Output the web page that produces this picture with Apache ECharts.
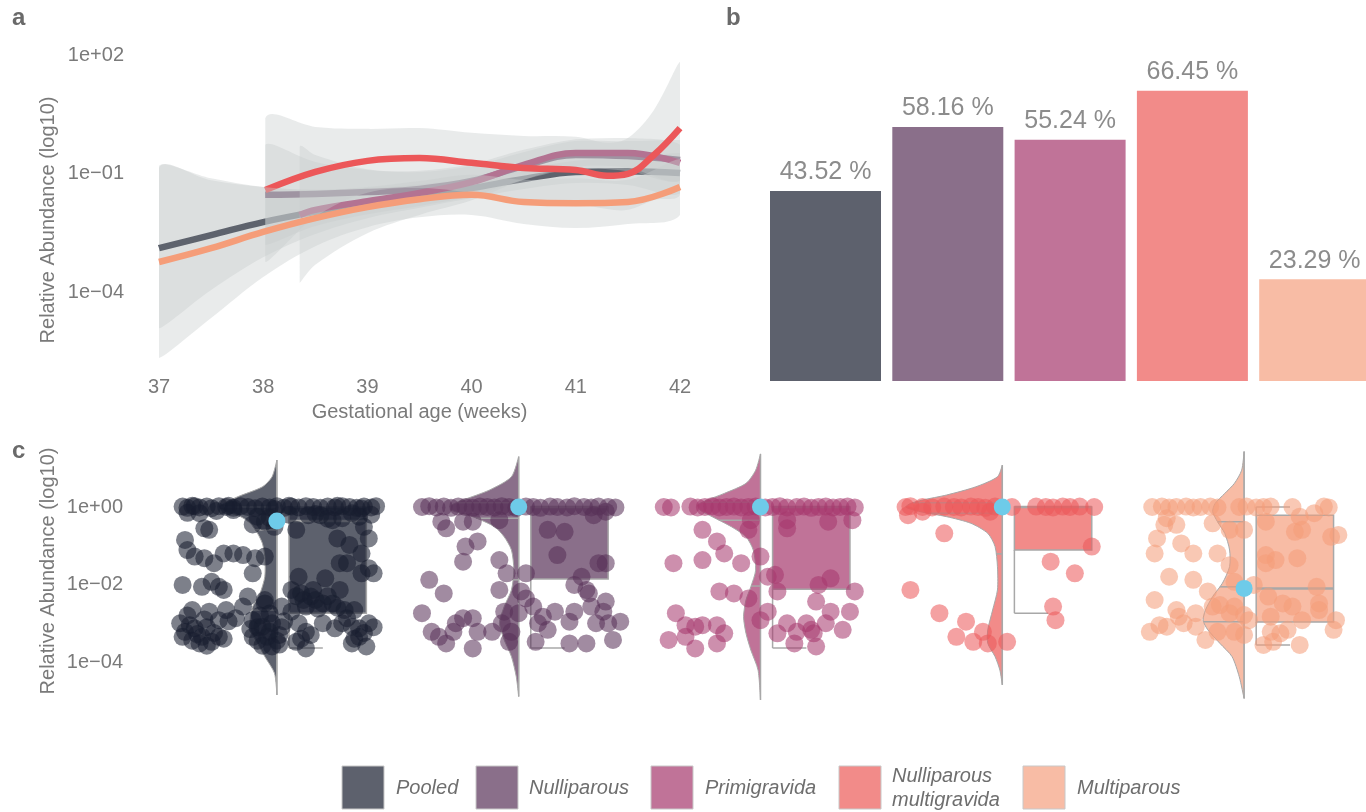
<!DOCTYPE html>
<html><head><meta charset="utf-8">
<script src="https://cdn.jsdelivr.net/npm/echarts@6/dist/echarts.min.js"></script>
<style>html,body{margin:0;padding:0;background:#fff}#main{width:1366px;height:812px}</style>
</head><body><div id="main"></div>
<script>
// ---------- shared ----------
const groupNames = ['Pooled','Nulliparous','Primigravida','Nulliparous\nmultigravida','Multiparous'];
const lineColors = ['#181d2e','#583158','#a5376c','#ec5759','#f59d79'];
const fillColors = ['#5d616d','#8a6f8a','#c07398','#f28b89','#f8bca5'];

// ---------- panel a : smoothed trends (log10 relative abundance) ----------
const weeksTicks = [37,38,39,40,41,42];
const yTicksA = [2,-1,-4];
const pooledWeeks = [37,37.5,38,38.5,39,39.5,40,40.5,41,41.5,42];
const pooledFit = [-2.89,-2.56,-2.23,-1.97,-1.75,-1.57,-1.37,-1.14,-0.96,-0.94,-0.99];
const pooledHi  = [-0.86,-1.17,-1.34,-1.41,-1.37,-1.27,-1.12,-0.89,-0.68,-0.59,-0.48];
const pooledLo  = [-4.92,-3.95,-3.12,-2.53,-2.13,-1.87,-1.62,-1.39,-1.24,-1.29,-1.50];
const nulliWeeks = [38.02,38.5,39,39.5,40,40.5,41,41.5,42];
const nulliFit = [-1.54,-1.52,-1.47,-1.39,-1.19,-0.81,-0.53,-0.56,-0.66];
const nulliHi  = [-0.27,-0.71,-0.91,-0.96,-0.81,-0.46,-0.18,-0.18,-0.15];
const nulliLo  = [-2.81,-2.33,-2.03,-1.82,-1.57,-1.16,-0.88,-0.94,-1.17];
const primiWeeks = [38.35,38.5,39,39.5,40,40.5,41,41.5,42];
const primiFit = [-2.05,-1.92,-1.70,-1.49,-1.22,-0.78,-0.48,-0.48,-0.73];
const primiHi  = [-0.33,-0.53,-0.89,-0.93,-0.76,-0.40,-0.13,-0.10,-0.27];
const primiLo  = [-3.77,-3.31,-2.51,-2.05,-1.68,-1.16,-0.83,-0.86,-1.19];
const nmWeeks = [38.02,38.5,39,39.5,40,40.5,41,41.3,41.5,41.75,42];
const nmFit = [-1.42,-0.96,-0.68,-0.61,-0.73,-0.86,-0.91,-1.06,-1.01,-0.53,0.15];
const nmHi  = [0.40,0.18,0.13,0.15,0.03,-0.05,-0.07,-0.22,-0.10,0.61,1.82];
const nmLo  = [-3.24,-2.10,-1.49,-1.37,-1.49,-1.67,-1.75,-1.90,-1.92,-1.67,-1.52];
const multiWeeks = [37,37.5,38,38.5,39,39.5,40,40.5,41,41.5,42];
const multiFit = [-3.24,-2.89,-2.48,-2.13,-1.85,-1.65,-1.54,-1.72,-1.75,-1.72,-1.34];
const multiHi  = [-0.81,-1.12,-1.34,-1.42,-1.34,-1.19,-1.03,-1.16,-1.12,-1.16,-0.63];
const multiLo  = [-5.67,-4.66,-3.62,-2.84,-2.36,-2.11,-2.05,-2.28,-2.38,-2.28,-2.05];

// ---------- panel b : prevalence (%) ----------
const barValues = [43.52,58.16,55.24,66.45,23.29];

// ---------- panel c : raincloud (jitter, log10 abundance) ----------
const yTicksC = [0,-2,-4];
const pooledPoints = [[-0.39,0.01],[-0.37,-0.02],[-0.34,0.02],[-0.32,-0.01],[-0.29,0.01],[-0.27,-0.03],[-0.24,0.02],[-0.21,0],[-0.18,-0.02],[-0.15,0.02],[-0.12,0],[-0.09,-0.03],[-0.06,0.01],[-0.03,-0.01],[0.0,0.02],[0.03,-0.02],[0.06,0.01],[0.09,-0.01],[0.12,0.02],[0.15,0],[0.18,-0.02],[0.21,0.01],[0.24,-0.01],[0.27,0.02],[0.30,0],[0.33,-0.02],[0.36,0.01],[0.39,-0.01],[0.41,0.02],
 [-0.35,0.03],[-0.20,0.03],[0.05,0.03],[0.25,0.03],[-0.01,-0.05],[0.35,-0.04],[-0.25,-0.10],[-0.18,-0.08],[-0.37,-0.15],
 [-0.32,-0.16],[-0.30,-0.55],[-0.28,-0.59],[-0.08,-0.25],[-0.05,-0.38],[-0.01,-0.51],[0.13,-0.21],[0.18,-0.21],[0.23,-0.34],[0.27,-0.29],[0.31,-0.16],[0.08,-0.59],[0.25,-0.81],[0.30,-0.98],[0.36,-0.51],[0.38,-0.81],[0.35,-1.20],[0.26,-1.45],[0.29,-1.45],[0.38,-1.58],
 [0.16,-0.18],[0.21,-0.30],[0.34,-0.25],[0.05,-0.20],[-0.10,-0.45],[-0.03,-0.28],[0.39,-0.20],
 [-0.38,-0.85],[-0.37,-1.11],[-0.34,-1.28],[-0.30,-1.32],[-0.26,-1.45],[-0.22,-1.20],[-0.18,-1.20],[-0.14,-1.24],[-0.09,-1.32],[-0.05,-1.28],[-0.10,-1.71],
 [-0.39,-2.01],[-0.31,-2.06],[-0.27,-1.93],[-0.24,-2.06],[-0.22,-2.14],[-0.12,-2.31],[-0.14,-2.57],[-0.35,-2.66],[-0.28,-2.70],[-0.24,-2.92],[-0.21,-2.66],[-0.17,-2.87],
 [-0.40,-3.00],[-0.38,-3.22],[-0.34,-3.13],[-0.31,-3.35],[-0.27,-3.48],[-0.24,-3.35],[-0.39,-3.35],[-0.32,-3.52],
 [-0.36,-3.05],[-0.33,-3.28],[-0.29,-3.10],[-0.26,-3.25],[-0.22,-3.40],[-0.35,-3.45],[-0.29,-3.58],[-0.20,-2.95],[-0.30,-2.90],[-0.37,-2.80],
 [-0.10,-2.92],[-0.06,-3.09],[-0.03,-3.22],[-0.02,-3.00],[0.01,-3.30],[-0.10,-3.35],[-0.05,-2.49],[0.02,-2.57],[-0.07,-2.80],[-0.04,-3.35],[0.0,-3.45],[-0.08,-3.10],[0.03,-2.95],[-0.02,-3.60],[-0.05,-2.40],
 [-0.08,-3.45],[-0.11,-3.15],[-0.03,-2.75],[0.02,-3.10],[-0.06,-3.58],[0.01,-3.55],
 [0.09,-1.80],[0.20,-1.84],[0.06,-2.14],[0.10,-2.23],[0.14,-2.31],[0.19,-2.49],[0.23,-2.49],[0.26,-2.14],[0.15,-2.14],[0.12,-2.57],
 [0.16,-2.40],[0.21,-2.30],[0.17,-2.62],[0.25,-2.60],[0.11,-2.40],[0.08,-2.30],
 [0.09,-3.00],[0.12,-3.22],[0.08,-3.48],[0.12,-3.65],[0.19,-3.00],[0.24,-3.13],[0.28,-2.66],[0.32,-2.66],[0.31,-3.09],[0.34,-3.13],[0.38,-3.00],[0.31,-3.52],[0.37,-3.60],[0.34,-3.35],[0.35,-1.71],[0.40,-1.71],[0.06,-2.70],[0.29,-2.87],
 [0.14,-3.30],[0.10,-3.40],[0.36,-3.25],[0.40,-3.10],[0.32,-3.40],[0.27,-3.00]];
const nulliPoints = [[-0.40,0],[-0.37,0.02],[-0.34,-0.01],[-0.31,0.01],[-0.28,-0.02],[-0.25,0.01],[-0.22,0],[-0.19,-0.02],[-0.16,0.01],[-0.13,0],[-0.10,-0.01],[-0.07,0.02],[-0.04,0],[-0.01,-0.02],[0.03,0.01],[0.06,0],[0.09,-0.02],[0.13,0.01],[0.16,0],[0.20,-0.01],[0.23,0.02],[0.27,0],[0.30,-0.01],[0.33,0.01],[0.37,0],[0.40,-0.01],
 [-0.32,-0.38],[-0.30,-0.55],[-0.23,-0.38],[-0.19,-0.38],[-0.08,-0.34],[0.12,-0.59],[0.19,-0.64],[0.31,-0.21],[0.36,-0.12],[-0.22,-1.02],[-0.17,-0.89],[-0.23,-1.41],[-0.08,-1.37],[0.16,-1.24],[-0.05,-1.71],[0.03,-1.71],[0.33,-1.45],[0.36,-1.45],[0.26,-1.80],
 [-0.37,-1.88],[-0.31,-2.23],[-0.08,-2.14],[0.01,-2.18],[0.03,-2.36],[0.23,-2.01],[0.28,-2.14],[0.29,-2.23],[0.36,-2.44],[0.30,-2.57],[0.35,-2.70],
 [-0.40,-2.74],[-0.06,-2.70],[0.0,-2.74],[0.06,-2.57],[0.10,-2.83],[0.15,-2.70],[0.23,-2.70],[0.21,-2.96],[0.42,-2.96],[0.08,-3.00],[0.12,-3.17],[0.32,-3.00],[0.37,-3.00],
 [-0.23,-2.87],[-0.19,-2.87],[-0.26,-3.00],[-0.36,-3.22],[-0.33,-3.35],[-0.30,-3.52],[-0.27,-3.22],[-0.17,-3.22],[-0.11,-3.22],[-0.07,-3.00],[-0.04,-3.48],[-0.03,-3.22],[-0.19,-3.65],[0.07,-3.48],[0.21,-3.52],[0.28,-3.52],[0.39,-3.43]];
const primiPoints = [[-0.40,0],[-0.37,-0.01],[-0.29,0.01],[-0.26,-0.01],[-0.23,0],[-0.20,0.02],[-0.17,-0.01],[-0.14,0],[-0.11,0.01],[-0.08,-0.01],[-0.05,0],[-0.02,0.01],[0.02,-0.01],[0.05,0],[0.08,0.02],[0.11,-0.01],[0.15,0],[0.18,0.01],[0.21,-0.02],[0.24,0],[0.27,0.01],[0.30,-0.01],[0.33,0],[0.36,0.01],[0.39,-0.01],
 [-0.04,-0.34],[-0.05,-0.59],[0.11,-0.34],[0.11,-0.55],[0.28,-0.38],[0.38,-0.34],[-0.24,-0.59],[-0.18,-0.89],[-0.15,-1.20],[-0.24,-1.37],[-0.36,-1.45],[-0.08,-1.45],[0.0,-1.28],[0.03,-1.80],[0.06,-1.75],[0.29,-1.84],[0.24,-2.01],
 [0.07,-2.18],[-0.17,-2.18],[-0.11,-2.23],[-0.05,-2.36],[0.39,-2.18],[0.23,-2.44],[0.29,-2.70],[0.37,-2.70],[0.03,-2.70],[0.0,-2.92],
 [-0.35,-2.74],[-0.31,-3.05],[-0.27,-3.09],[-0.24,-3.05],[-0.18,-3.05],[-0.15,-3.26],[-0.31,-3.35],[-0.38,-3.43],[-0.27,-3.65],[-0.18,-3.52],
 [0.07,-3.26],[0.11,-3.00],[0.15,-3.22],[0.19,-3.00],[0.22,-3.26],[0.14,-3.52],[0.23,-3.60],[0.27,-3.00],[0.34,-3.17],[0.21,-3.17]];
const nmPoints = [[-0.40,0],[-0.38,0.02],[-0.33,0],[-0.29,-0.01],[-0.24,0.01],[-0.20,0],[-0.17,-0.01],[-0.13,0.01],[-0.10,0],[-0.07,-0.02],[-0.03,0.01],[0.04,0],[0.14,0.01],[0.18,0],[0.21,-0.01],[0.25,0.01],[0.28,0],[0.32,0.01],[0.38,0],
 [-0.39,-0.21],[-0.33,-0.12],[-0.05,-0.12],
 [-0.24,-0.68],[0.37,-1.02],[0.20,-1.41],[0.30,-1.71],[-0.38,-2.14],[-0.26,-2.74],[0.21,-2.57],[0.22,-2.92],[-0.15,-2.96],[-0.19,-3.35],[-0.12,-3.48],[-0.08,-3.22],[-0.06,-3.52],[0.02,-3.48]];
const multiPoints = [[-0.38,0],[-0.34,0.01],[-0.31,-0.01],[-0.28,0],[-0.24,0.01],[-0.21,-0.01],[-0.18,0],[-0.14,0.01],[-0.11,-0.01],[-0.02,0],[0.01,0.01],[0.05,-0.01],[0.08,0],[0.11,0.01],[0.20,0],[0.33,0.01],[0.35,-0.01],
 [-0.32,-0.29],[-0.28,-0.46],[-0.33,-0.46],[0.23,-0.25],[0.29,-0.16],[-0.13,-0.42],[-0.06,-0.59],[0.0,-0.59],[0.09,-0.38],
 [-0.36,-0.81],[-0.26,-0.94],[-0.37,-1.20],[-0.21,-1.20],[-0.11,-1.20],[0.21,-0.64],[0.24,-0.59],[0.36,-0.77],[0.39,-0.72],
 [-0.06,-1.50],[0.09,-1.24],[0.13,-1.37],[0.09,-1.45],[0.22,-1.32],[-0.31,-1.80],[-0.21,-1.88],[-0.15,-2.18],[-0.04,-1.93],[0.04,-2.01],
 [0.10,-2.31],[0.16,-2.49],[0.20,-2.57],[0.30,-2.06],[0.31,-2.49],[-0.37,-2.40],[-0.28,-2.66],[-0.27,-2.83],[-0.20,-2.74],[-0.13,-2.57],[-0.10,-2.53],[-0.06,-2.74],[-0.04,-2.57],[0.0,-2.79],[0.02,-2.92],[0.11,-2.83],[0.24,-2.92],[0.31,-2.66],[0.38,-2.92],[0.37,-3.17],
 [-0.39,-3.22],[-0.35,-3.05],[-0.32,-3.09],[-0.25,-3.00],[-0.20,-3.09],[-0.16,-3.43],[-0.11,-3.22],[-0.04,-3.22],[0.0,-3.30],[0.08,-3.56],[0.11,-3.22],[0.15,-3.26],[0.18,-3.17],[0.23,-3.56],[0.12,-3.48]];
// violin profiles: [log10 abundance, half width in group units]
const pooledViolin = [[1.21,0],[0.78,0.02],[0.52,0.06],[0.27,0.16],[0.09,0.22],[0,0.24],[-0.12,0.21],[-0.25,0.15],[-0.42,0.11],[-0.68,0.08],[-0.94,0.06],[-1.28,0.05],[-1.80,0.05],[-2.23,0.07],[-2.57,0.10],[-2.83,0.11],[-3.17,0.11],[-3.52,0.08],[-3.86,0.05],[-4.29,0.01],[-4.85,0]];
const nulliViolin = [[1.30,0],[0.78,0.03],[0.44,0.12],[0.18,0.23],[0.04,0.28],[-0.08,0.28],[-0.25,0.19],[-0.51,0.10],[-0.77,0.06],[-1.11,0.03],[-1.63,0.02],[-2.14,0.03],[-2.57,0.06],[-3.00,0.08],[-3.43,0.06],[-3.86,0.03],[-4.38,0.01],[-4.89,0]];
const primiViolin = [[1.37,0],[0.95,0.02],[0.61,0.06],[0.35,0.15],[0.18,0.22],[0.05,0.26],[-0.08,0.25],[-0.25,0.20],[-0.51,0.12],[-0.77,0.06],[-1.11,0.03],[-1.63,0.02],[-2.06,0.04],[-2.40,0.06],[-2.83,0.07],[-3.26,0.06],[-3.69,0.04],[-4.21,0.01],[-4.98,0]];
const nmViolin = [[1.08,0],[0.78,0.02],[0.52,0.11],[0.31,0.23],[0.18,0.33],[0.09,0.38],[0,0.40],[-0.12,0.34],[-0.25,0.23],[-0.42,0.13],[-0.68,0.06],[-1.02,0.03],[-1.54,0.02],[-2.14,0.02],[-2.66,0.04],[-3.17,0.06],[-3.52,0.06],[-3.86,0.03],[-4.21,0.01],[-4.59,0]];
const multiViolin = [[1.43,0],[0.95,0.01],[0.61,0.04],[0.35,0.08],[0.09,0.12],[-0.12,0.13],[-0.38,0.11],[-0.68,0.08],[-1.11,0.06],[-1.54,0.06],[-1.97,0.09],[-2.31,0.13],[-2.66,0.16],[-2.92,0.17],[-3.17,0.15],[-3.52,0.10],[-3.86,0.05],[-4.38,0.02],[-4.94,0]];
const violinQuantiles = [[0,-0.59,-2.66],[0.11,-0.29,-1.88],[0.12,-0.34,-2.04],[0.11,-0.16,-1.21],[-0.38,-2.06,-2.96]];
// [lower whisker, Q1, median, Q3, upper whisker]
const boxStats = [[-3.64,-2.74,-0.36,0,0],[-3.64,-1.86,0,0,0],[-3.64,-2.12,0,0,0],[-2.74,-1.11,0,0,0],[-3.56,-2.97,-2.10,-0.21,0]];
const meanValues = [-0.36,0,0,0,-2.10];

// ---------- rendering ----------
const FONT = '"Liberation Sans", Arial, Helvetica, sans-serif';
const TXT = '#7a7a7a';
const GREYLINE = '#a8a8a8';
const RIBBON = 'rgba(200,204,205,0.4)';
const BOX_L = 0.05, BOX_R = 0.37, CAP_R = 0.19;
const fmtExp = v => '1e' + (v < 0 ? '\u2212' : '+') + String(Math.abs(v)).padStart(2, '0');

const trend = [
  {w: pooledWeeks, fit: pooledFit, lo: pooledLo, hi: pooledHi},
  {w: nulliWeeks, fit: nulliFit, lo: nulliLo, hi: nulliHi},
  {w: primiWeeks, fit: primiFit, lo: primiLo, hi: primiHi},
  {w: nmWeeks, fit: nmFit, lo: nmLo, hi: nmHi},
  {w: multiWeeks, fit: multiFit, lo: multiLo, hi: multiHi}
];
const points = [pooledPoints, nulliPoints, primiPoints, nmPoints, multiPoints];
const violins = [pooledViolin, nulliViolin, primiViolin, nmViolin, multiViolin];

function hexA(hex, a){
  const n = parseInt(hex.slice(1),16);
  return 'rgba(' + (n>>16 & 255) + ',' + (n>>8 & 255) + ',' + (n & 255) + ',' + a + ')';
}
function widthAt(profile, v){
  for (let k = 0; k < profile.length - 1; k++){
    const a = profile[k], b = profile[k+1];
    if (v <= a[0] && v >= b[0]) { const t = (a[0]-v)/(a[0]-b[0]); return a[1] + t*(b[1]-a[1]); }
  }
  return 0;
}
function bbox(pts){
  let x0=Infinity,y0=Infinity,x1=-Infinity,y1=-Infinity;
  pts.forEach(p=>{x0=Math.min(x0,p[0]);y0=Math.min(y0,p[1]);x1=Math.max(x1,p[0]);y1=Math.max(y1,p[1]);});
  return [[x0,y0],[x1,y1]];
}

const series = [];
trend.forEach((d, i) => {
  // confidence ribbon (drawn above the previous group's line, as in ggplot)
  series.push({type:'custom', xAxisIndex:0, yAxisIndex:0, silent:true, z:10 + 2*i,
    data: d.w.map((x,k)=>[x, d.lo[k], d.hi[k]]),
    renderItem:(params, api) => {
      if (params.dataIndex !== 0) return null;
      const upper = d.w.map((x,k)=>api.coord([x, d.hi[k]]));
      const lower = d.w.map((x,k)=>api.coord([x, d.lo[k]])).reverse();
      const pts = upper.concat(lower);
      return {type:'polygon', shape:{points: pts, smooth:0.35, smoothConstraint:bbox(pts)},
        style:{fill:RIBBON}};
    }});
  // fitted line
  series.push({type:'line', xAxisIndex:0, yAxisIndex:0, silent:true, z:11 + 2*i,
    data: d.w.map((x,k)=>[x, d.fit[k]]), symbol:'none', smooth:0.4,
    lineStyle:{width:6.5, color:lineColors[i], cap:'butt'}});
});

series.push({type:'bar', xAxisIndex:1, yAxisIndex:1, barWidth:111, clip:false, silent:true,
  data: barValues.map((v,i)=>({value:v, itemStyle:{color:fillColors[i]}})),
  label:{show:true, position:'top', distance:6, formatter:p=>p.value.toFixed(2)+' %',
    fontSize:25, color:'#8c8c8c', fontFamily:FONT}});

// violins
violins.forEach((prof, gi) => {
  series.push({type:'custom', xAxisIndex:2, yAxisIndex:2, silent:true, data:[[gi, 0]],
    renderItem:(params, api) => {
      const pts = prof.map(p => api.coord([gi - p[1], p[0]]));
      const top = api.coord([gi, prof[0][0]]);
      const bot = api.coord([gi, prof[prof.length-1][0]]);
      const children = [
        {type:'polygon', shape:{points:pts, smooth:0.25, smoothConstraint:bbox(pts)}, style:{fill:fillColors[gi], stroke:GREYLINE, lineWidth:1}},
        {type:'line', shape:{x1:top[0], y1:top[1], x2:bot[0], y2:bot[1]}, style:{stroke:GREYLINE, lineWidth:1.5}}
      ];
      violinQuantiles[gi].forEach(q => {
        const w = widthAt(prof, q);
        const a = api.coord([gi - w, q]), b = api.coord([gi, q]);
        children.push({type:'line', shape:{x1:a[0], y1:a[1], x2:b[0], y2:b[1]}, style:{stroke:GREYLINE, lineWidth:1.5}});
      });
      return {type:'group', children};
    }});
});
// boxes
boxStats.forEach((s, gi) => {
  series.push({type:'custom', xAxisIndex:2, yAxisIndex:2, silent:true, data:[[gi, s[2]]],
    renderItem:(params, api) => {
      const [lw, q1, med, q3, hw] = s;
      const p0 = api.coord([gi+BOX_L, q3]), p1 = api.coord([gi+BOX_R, q1]);
      const ln = (xa, ya, xb, yb, w) => {
        const a = api.coord([xa, ya]), b = api.coord([xb, yb]);
        return {type:'line', shape:{x1:a[0], y1:a[1], x2:b[0], y2:b[1]}, style:{stroke:GREYLINE, lineWidth:w||1.5}};
      };
      const children = [
        {type:'rect', shape:{x:p0[0], y:p0[1], width:p1[0]-p0[0], height:p1[1]-p0[1]}, style:{fill:fillColors[gi], stroke:GREYLINE, lineWidth:1.5}},
        ln(gi+BOX_L, med, gi+BOX_R, med, 2.5),
        ln(gi+BOX_L, q1, gi+BOX_L, lw), ln(gi+BOX_L, lw, gi+CAP_R, lw)
      ];
      if (hw > q3) { children.push(ln(gi+BOX_L, q3, gi+BOX_L, hw)); children.push(ln(gi+BOX_L, hw, gi+CAP_R, hw)); }
      return {type:'group', children};
    }});
});
// points
points.forEach((pts, gi) => {
  series.push({type:'scatter', xAxisIndex:2, yAxisIndex:2, silent:true, symbolSize:18, z:3,
    data: pts.map(p => [gi + p[0], p[1]]),
    itemStyle:{color:hexA(lineColors[gi], 0.7)}});
});
series.push({type:'scatter', xAxisIndex:2, yAxisIndex:2, silent:true, symbolSize:17,
  data: meanValues.map((v,i)=>[i, v]), itemStyle:{color:'#6ecbe9', opacity:1}, z:6});

// legend + titles
const legendRectX = [342, 476, 651, 839, 1023];
const legendTextX = [396, 529, 705, 892, 1077];
const graphic = [
  {type:'text', left:12, top:6, style:{text:'a', font:'bold 24px ' + FONT, fill:'#6a6a6a'}},
  {type:'text', left:726, top:6, style:{text:'b', font:'bold 24px ' + FONT, fill:'#6a6a6a'}},
  {type:'text', left:12, top:439, style:{text:'c', font:'bold 24px ' + FONT, fill:'#6a6a6a'}},
  {type:'text', x:48, y:220, rotation:Math.PI/2, style:{text:'Relative Abundance (log10)', font:'20px ' + FONT, fill:TXT, align:'center', verticalAlign:'middle'}},
  {type:'text', x:48, y:571, rotation:Math.PI/2, style:{text:'Relative Abundance (log10)', font:'20px ' + FONT, fill:TXT, align:'center', verticalAlign:'middle'}}
];
groupNames.forEach((n, i) => {
  graphic.push({type:'rect', shape:{x:legendRectX[i], y:766, width:42, height:43}, style:{fill:fillColors[i], stroke:'#c8c8c8', lineWidth:1}});
  graphic.push({type:'text', x:legendTextX[i], y:788, style:{text:n, font:'italic 20px ' + FONT, fill:'#6e6e6e', verticalAlign:'middle', lineHeight:24}});
});

const hidden = {axisLine:{show:false}, axisTick:{show:false}, splitLine:{show:false}};
const option = {
  animation:false,
  backgroundColor:'#fff',
  grid:[
    {left:159, top:15.5, width:521, height:355.5},
    {left:825.5, top:31.7, width:489.2, height:349.3},
    {left:156, top:429.5, width:1209, height:310}
  ],
  xAxis:[
    Object.assign({type:'value', gridIndex:0, min:37, max:42, interval:1,
      axisLabel:{color:TXT, fontSize:20, fontFamily:FONT, margin:6, formatter:v=>weeksTicks.includes(v)?String(v):''},
      name:'Gestational age (weeks)', nameLocation:'middle', nameGap:31,
      nameTextStyle:{color:TXT, fontSize:20, fontFamily:FONT}}, hidden),
    Object.assign({type:'category', gridIndex:1, data:groupNames, boundaryGap:false, axisLabel:{show:false}}, hidden),
    Object.assign({type:'value', gridIndex:2, min:-0.5, max:4.5, axisLabel:{show:false}}, hidden)
  ],
  yAxis:[
    Object.assign({type:'value', gridIndex:0, min:-6, max:3, interval:1,
      axisLabel:{color:TXT, fontSize:20, fontFamily:FONT, margin:35, formatter:v=>yTicksA.includes(v)?fmtExp(v):''}}, hidden),
    Object.assign({type:'value', gridIndex:1, min:0, max:80, axisLabel:{show:false}}, hidden),
    Object.assign({type:'value', gridIndex:2, min:-6, max:2, interval:1,
      axisLabel:{color:TXT, fontSize:20, fontFamily:FONT, margin:33, formatter:v=>yTicksC.includes(v)?fmtExp(v):''}}, hidden)
  ],
  graphic,
  series
};
const chart = echarts.init(document.getElementById('main'));
chart.setOption(option);
</script></body></html>
